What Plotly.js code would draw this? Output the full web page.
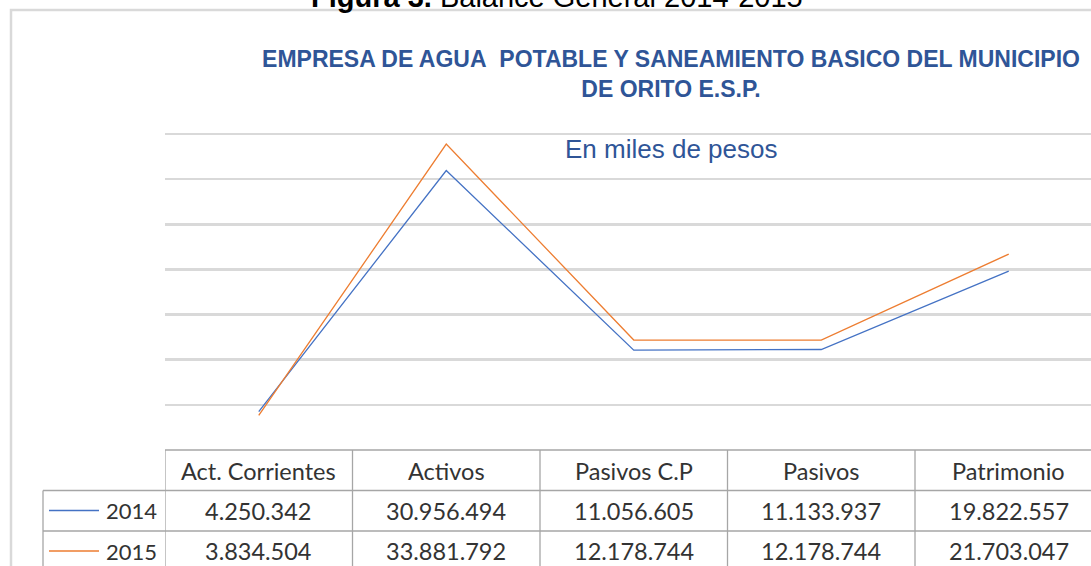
<!DOCTYPE html>
<html>
<head>
<meta charset="utf-8">
<script src="https://cdn.plot.ly/plotly-3.0.1.min.js"></script>
<style>
  html, body { margin: 0; padding: 0; background: #ffffff; overflow: hidden; }
  #chart { width: 1091px; height: 566px; }
</style>
</head>
<body>
<div id="chart"></div>
<script>
// ---- data ----
var categories = ['Act. Corrientes', 'Activos', 'Pasivos C.P', 'Pasivos', 'Patrimonio'];
var seriesNames = ['2014', '2015'];
var values2014 = [4250342, 30956494, 11056605, 11133937, 19822557];
var values2015 = [3834504, 33881792, 12178744, 12178744, 21703047];
var gridValues = [5000000, 10000000, 15000000, 20000000, 25000000, 30000000, 35000000];
var axisMax = 35000000;

// ---- layout helpers ----
var W = 1091, H = 566;
var M = { l: 165, r: 0, t: 126, b: 116 };
var plotW = W - M.l - M.r, plotH = H - M.t - M.b;
var zeroY = H - M.b;                     // pixel row of value 0
var unitPx = (zeroY - 134) / axisMax;    // axis max drawn at pixel row 134
function px(x) { return (x - M.l) / plotW; }          // pixel x -> paper x
function py(y) { return (zeroY - y) / plotH; }        // pixel y -> paper y
function fmt(n) { return String(n).replace(/\B(?=(\d{3})+(?!\d))/g, '.'); }

var colors = ['#4472C4', '#ED7D31'];
var tableFont = { family: 'Lato, "Open Sans", sans-serif', size: 23.5, color: '#333333' };
var legendFont = { family: 'Lato, "Open Sans", sans-serif', size: 22, color: '#333333' };
var borderColor = '#a6a6a6';

var traces = [
  { x: categories, y: values2014, name: seriesNames[0], type: 'scatter', mode: 'lines',
    line: { color: colors[0], width: 1.3 }, showlegend: false, hoverinfo: 'skip' },
  { x: categories, y: values2015, name: seriesNames[1], type: 'scatter', mode: 'lines',
    line: { color: colors[1], width: 1.3 }, showlegend: false, hoverinfo: 'skip' }
];

// table rows (pixel positions of the data-table grid)
var rowTop = [450, 490.5, 531, 571.5];
var rowMid = [470.5, 510.5, 551];
var legendLeft = 43;

var shapes = [];
// outer chart border
shapes.push({ type: 'rect', xref: 'paper', yref: 'paper',
  x0: px(11), x1: px(1300), y0: py(10), y1: py(800),
  line: { color: '#d9d9d9', width: 2.5 }, fillcolor: 'rgba(0,0,0,0)', layer: 'below' });
// horizontal table lines
shapes.push({ type: 'line', xref: 'paper', yref: 'paper', x0: px(165), x1: px(1200), y0: py(rowTop[0]), y1: py(rowTop[0]), line: { color: borderColor, width: 1.3 } });
for (var k = 1; k < rowTop.length; k++) {
  shapes.push({ type: 'line', xref: 'paper', yref: 'paper', x0: px(legendLeft), x1: px(1200), y0: py(rowTop[k]), y1: py(rowTop[k]), line: { color: borderColor, width: 1.3 } });
}
// vertical table lines
shapes.push({ type: 'line', xref: 'paper', yref: 'paper', x0: px(legendLeft), x1: px(legendLeft), y0: py(rowTop[1]), y1: py(620), line: { color: borderColor, width: 1.3 } });
for (var i = 0; i <= categories.length; i++) {
  shapes.push({ type: 'line', xref: 'x', yref: 'paper', x0: i - 0.5, x1: i - 0.5, y0: py(rowTop[0]), y1: py(620), line: { color: borderColor, width: 1.3 } });
}
// legend keys in the table
for (var s = 0; s < seriesNames.length; s++) {
  shapes.push({ type: 'line', xref: 'paper', yref: 'paper', x0: px(49), x1: px(99), y0: py(rowMid[s + 1]), y1: py(rowMid[s + 1]), line: { color: colors[s], width: 1.5 } });
}

var annotations = [];
// figure caption (partially cut at the top, as in the source page)
annotations.push({ xref: 'paper', yref: 'paper', x: px(557), y: py(-3), xanchor: 'center', yanchor: 'middle',
  text: '<b>Figura 3.</b> Balance General 2014-2015', showarrow: false,
  font: { family: '"Liberation Sans", Arial, sans-serif', size: 29, color: '#000000' } });
// subtitle
annotations.push({ xref: 'paper', yref: 'paper', x: px(671), y: py(149), xanchor: 'center', yanchor: 'middle',
  text: 'En miles de pesos', showarrow: false,
  font: { family: '"Liberation Sans", Arial, sans-serif', size: 26, color: '#2F5597' } });
// table header + values
var rowsData = [values2014, values2015];
for (var c = 0; c < categories.length; c++) {
  annotations.push({ xref: 'x', yref: 'paper', x: c, y: py(rowMid[0]), xanchor: 'center', yanchor: 'middle',
    text: categories[c], showarrow: false, font: tableFont });
  for (var r = 0; r < rowsData.length; r++) {
    annotations.push({ xref: 'x', yref: 'paper', x: c, y: py(rowMid[r + 1]), xanchor: 'center', yanchor: 'middle',
      text: fmt(rowsData[r][c]), showarrow: false, font: tableFont });
  }
}
for (var s2 = 0; s2 < seriesNames.length; s2++) {
  annotations.push({ xref: 'paper', yref: 'paper', x: px(159), y: py(rowMid[s2 + 1]), xanchor: 'right', yanchor: 'middle',
    text: seriesNames[s2], showarrow: false, font: legendFont });
}

var layout = {
  width: W, height: H,
  margin: M,
  paper_bgcolor: '#ffffff', plot_bgcolor: '#ffffff',
  title: {
    text: 'EMPRESA DE AGUA\u00a0 POTABLE Y SANEAMIENTO BASICO DEL MUNICIPIO<br>DE ORITO E.S.P.',
    font: { family: '"Liberation Sans", Arial, sans-serif', size: 23, color: '#2F5597', weight: 'bold' },
    x: 671 / W, xanchor: 'center', xref: 'container',
    y: 1 - 67 / H, yanchor: 'middle', yref: 'container'
  },
  xaxis: { type: 'category', range: [-0.5, -0.5 + plotW / 187.5], showgrid: false, zeroline: false,
    showticklabels: false, ticks: '', showline: false, fixedrange: true },
  yaxis: { range: [0, plotH / unitPx], tickvals: gridValues, showticklabels: false, ticks: '',
    showgrid: true, gridcolor: '#d9d9d9', gridwidth: 2.5, zeroline: false, showline: false, fixedrange: true },
  shapes: shapes,
  annotations: annotations,
  showlegend: false
};

Plotly.newPlot('chart', traces, layout, { displayModeBar: false, staticPlot: true });
</script>
</body>
</html>
